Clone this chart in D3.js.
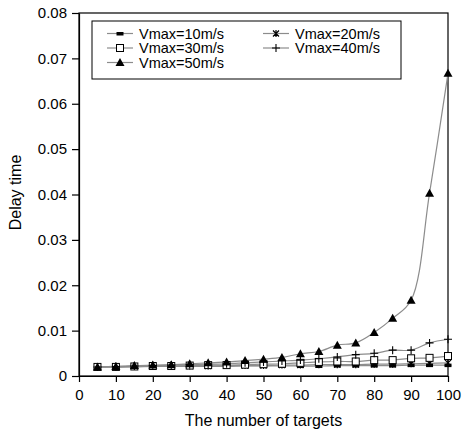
<!DOCTYPE html>
<html>
<head>
<meta charset="utf-8">
<script src="https://cdn.jsdelivr.net/npm/d3@7"></script>
<style>
body { margin: 0; background: #fff; }
text { font-family: "Liberation Sans", Arial, sans-serif; }
.axis path, .axis line { stroke: #000; stroke-width: 1.2; }
</style>
</head>
<body>
<script>
var targets = [5, 10, 15, 20, 25, 30, 35, 40, 45, 50, 55, 60, 65, 70, 75, 80, 85, 90, 95, 100];

var v10 = [0.0020, 0.0020, 0.0020, 0.0021, 0.0021, 0.0021, 0.0021, 0.0021, 0.0022, 0.0022, 0.0022, 0.0022, 0.0022, 0.0023, 0.0023, 0.0023, 0.0023, 0.0024, 0.0024, 0.0024];
var v20 = [0.0020, 0.0020, 0.0021, 0.0021, 0.0022, 0.0022, 0.0022, 0.0023, 0.0023, 0.0023, 0.0024, 0.0024, 0.0025, 0.0025, 0.0025, 0.0026, 0.0026, 0.0027, 0.0028, 0.0029];
var v30 = [0.0020, 0.0020, 0.0021, 0.0022, 0.0022, 0.0023, 0.0024, 0.0024, 0.0025, 0.0026, 0.0027, 0.0029, 0.0031, 0.0032, 0.0032, 0.0035, 0.0035, 0.0039, 0.0040, 0.0044];
var v40 = [0.0020, 0.0021, 0.0022, 0.0023, 0.0024, 0.0025, 0.0026, 0.0027, 0.0029, 0.0031, 0.0033, 0.0035, 0.0038, 0.0042, 0.0047, 0.0050, 0.0057, 0.0057, 0.0073, 0.0081];
var v50 = [0.0020, 0.0021, 0.0023, 0.0024, 0.0025, 0.0027, 0.0029, 0.0031, 0.0034, 0.0037, 0.0041, 0.0049, 0.0054, 0.0068, 0.0073, 0.0096, 0.0127, 0.0167, 0.0403, 0.0667];

var seriesNames = ["Vmax=10m/s", "Vmax=20m/s", "Vmax=30m/s", "Vmax=40m/s", "Vmax=50m/s"];
var seriesValues = [v10, v20, v30, v40, v50];
var seriesMarkers = ["dash", "star", "square", "plus", "triangle"];

var xTicks = [0, 10, 20, 30, 40, 50, 60, 70, 80, 90, 100];
var yTicks = [0, 0.01, 0.02, 0.03, 0.04, 0.05, 0.06, 0.07, 0.08];

var margin = {top: 13, right: 14, bottom: 56, left: 79},
    width = 462 - margin.left - margin.right,
    height = 432 - margin.top - margin.bottom;

var x = d3.scaleLinear().domain([0, 100]).range([0, width]);
var y = d3.scaleLinear().domain([0, 0.08]).range([height, 0]);

var svg = d3.select("body").append("svg")
    .attr("width", 462)
    .attr("height", 432)
    .append("g")
    .attr("transform", "translate(" + margin.left + "," + margin.top + ")");

// frame
svg.append("rect")
    .attr("width", width)
    .attr("height", height)
    .attr("fill", "none")
    .attr("stroke", "#000")
    .attr("stroke-width", 1.2);

var xAxis = d3.axisBottom(x).tickValues(xTicks).tickSize(6).tickSizeOuter(0).tickPadding(7)
    .tickFormat(d3.format("d"));
var yAxis = d3.axisLeft(y).tickValues(yTicks).tickSize(7).tickSizeOuter(0).tickPadding(5)
    .tickFormat(function(d) { return d === 0 ? "0" : d3.format(".2f")(d); });

svg.append("g")
    .attr("class", "x axis")
    .attr("transform", "translate(0," + height + ")")
    .call(xAxis)
    .selectAll("text")
    .style("font-size", "15px")
    .attr("fill", "#000");

svg.append("g")
    .attr("class", "y axis")
    .call(yAxis)
    .selectAll("text")
    .style("font-size", "15px")
    .attr("fill", "#000");

svg.append("text")
    .attr("x", width / 2)
    .attr("y", height + 50)
    .style("text-anchor", "middle")
    .style("font-size", "16px")
    .text("The number of targets");

svg.append("text")
    .attr("transform", "rotate(-90)")
    .attr("x", -height / 2 + 2)
    .attr("y", -margin.left + 21)
    .style("text-anchor", "middle")
    .style("font-size", "16px")
    .text("Delay time");

var line = d3.line()
    .x(function(d, i) { return x(targets[i]); })
    .y(function(d) { return y(d); })
    .curve(d3.curveCatmullRom);

function drawMarker(g, type) {
    if (type === "dash") {
        g.append("rect").attr("x", -3.5).attr("y", -1.5).attr("width", 7).attr("height", 3.5).attr("fill", "#000");
    } else if (type === "star") {
        g.append("path").attr("d", "M-3,-3L3,3M-3,3L3,-3M0,-3.5L0,3.5")
            .attr("stroke", "#000").attr("stroke-width", 1.2).attr("fill", "none");
    } else if (type === "square") {
        g.append("rect").attr("x", -3.5).attr("y", -3.5).attr("width", 7).attr("height", 7)
            .attr("fill", "#fff").attr("stroke", "#000").attr("stroke-width", 1);
    } else if (type === "plus") {
        g.append("path").attr("d", "M-4,0L4,0M0,-4L0,4")
            .attr("stroke", "#000").attr("stroke-width", 1.1).attr("fill", "none");
    } else if (type === "triangle") {
        g.append("path").attr("d", "M0,-4.5L4.5,3.5L-4.5,3.5Z").attr("fill", "#000");
    }
}

var chartBody = svg.append("g");

seriesValues.forEach(function(vals, k) {
    chartBody.append("path")
        .datum(vals)
        .attr("fill", "none")
        .attr("stroke", "#8c8c8c")
        .attr("stroke-width", 1.2)
        .attr("d", line);
});

seriesValues.forEach(function(vals, k) {
    chartBody.selectAll(".m" + k)
        .data(vals)
        .enter().append("g")
        .attr("class", "m" + k)
        .attr("transform", function(d, i) { return "translate(" + x(targets[i]) + "," + y(d) + ")"; })
        .each(function() { drawMarker(d3.select(this), seriesMarkers[k]); });
});

// legend
var legend = svg.append("g")
    .attr("transform", "translate(" + (92 - margin.left) + "," + (21 - margin.top) + ")");

legend.append("rect")
    .attr("width", 309)
    .attr("height", 58)
    .attr("fill", "#fff")
    .attr("stroke", "#000")
    .attr("stroke-width", 1);

var legendPos = [[15, 12.5], [171, 12.5], [15, 27], [171, 27], [15, 41.5]];

seriesNames.forEach(function(name, k) {
    var item = legend.append("g")
        .attr("transform", "translate(" + legendPos[k][0] + "," + legendPos[k][1] + ")");
    item.append("line")
        .attr("x1", 0).attr("x2", 26)
        .attr("stroke", "#8c8c8c")
        .attr("stroke-width", 1.2);
    drawMarker(item.append("g").attr("transform", "translate(13,0)"), seriesMarkers[k]);
    item.append("text")
        .attr("x", 32)
        .attr("dy", "0.35em")
        .style("font-size", "14.5px")
        .text(name);
});
</script>
</body>
</html>
